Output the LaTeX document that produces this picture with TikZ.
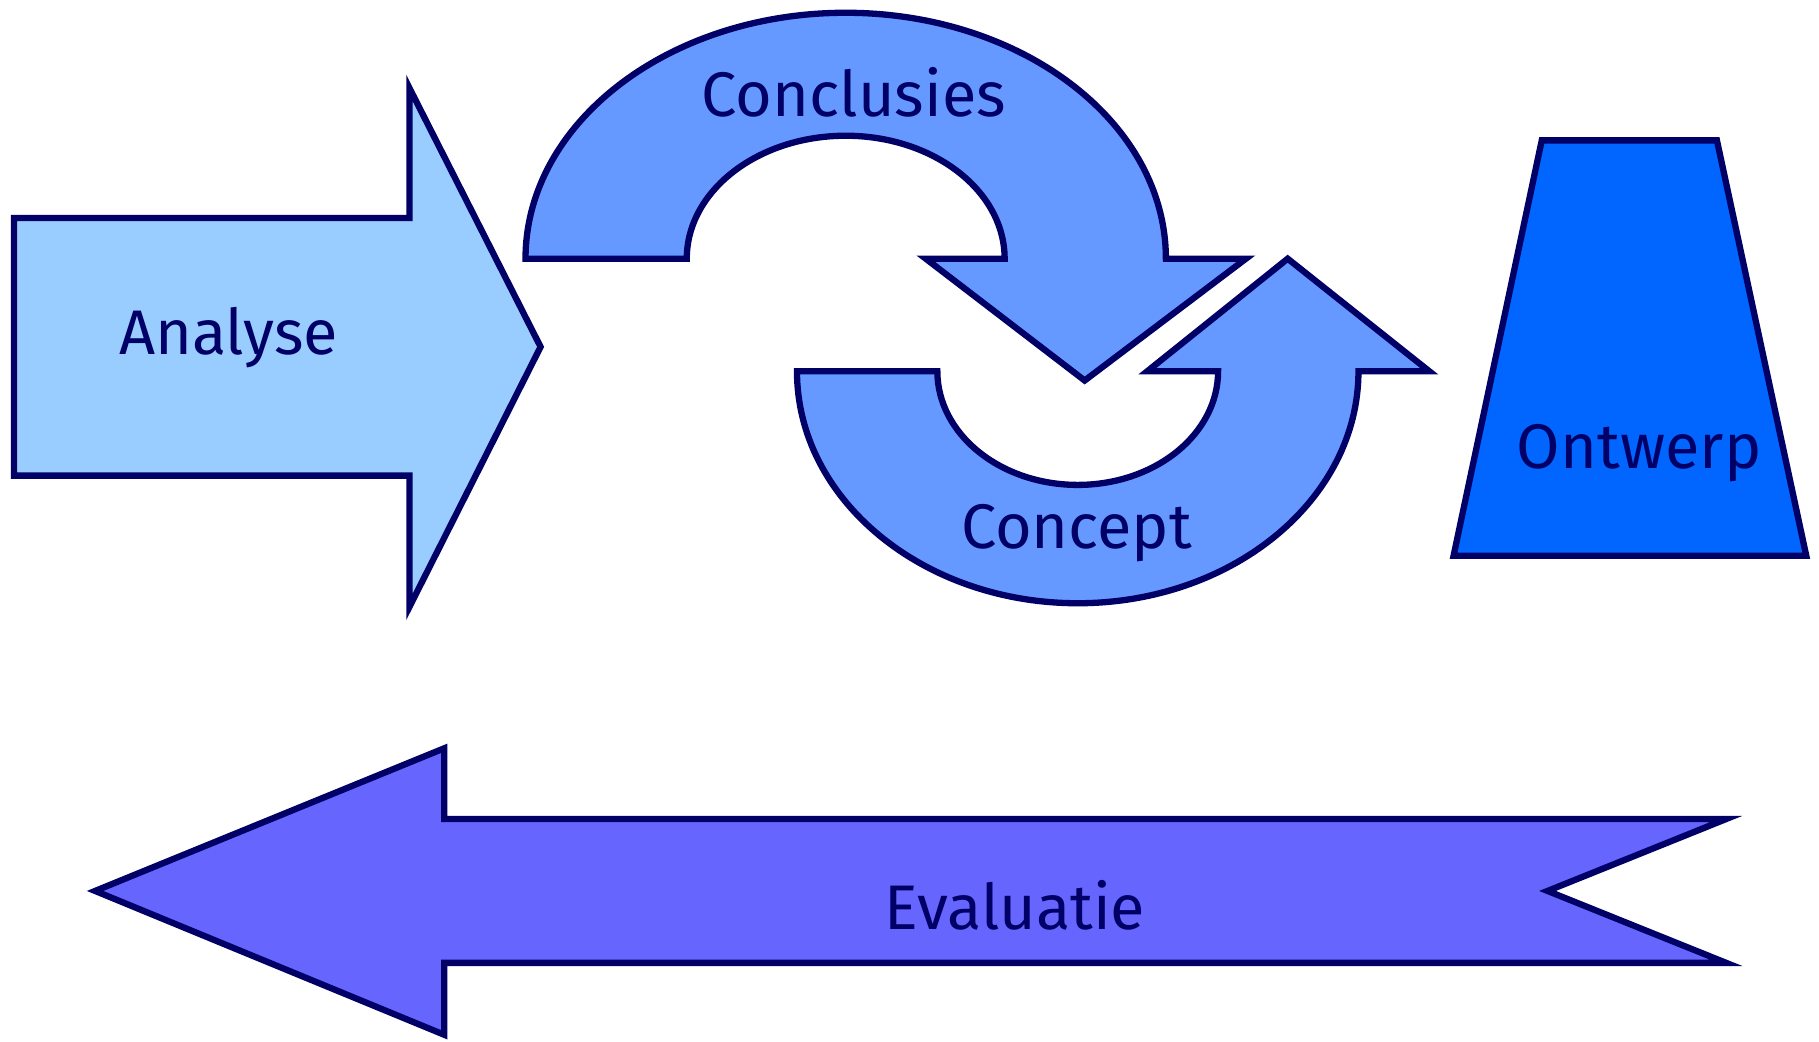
\documentclass[tikz,border=0pt]{standalone}
\usepackage{fontspec}
\setmainfont{Fira Sans}
\definecolor{navy}{HTML}{000066}
\definecolor{cLight}{HTML}{99CCFF}
\definecolor{cMid}{HTML}{6699FF}
\definecolor{cDeep}{HTML}{0066FF}
\definecolor{cViolet}{HTML}{6666FF}
\tikzset{
  shapeline/.style={draw=navy, line width=6.3pt, line join=miter},
  lbl/.style={text=navy, font=\fontsize{63}{70}\selectfont, anchor=base, inner sep=0pt}
}
\begin{document}
\begin{tikzpicture}[x=1.1601pt, y=-1.1601pt]
\useasboundingbox (0,0) rectangle (1568,898.2);
% Analyse arrow
\path[shapeline, fill=cLight] (12,188) -- (353,188) -- (353,76) -- (466,299) -- (353,523) -- (353,410) -- (12,410) -- cycle;
% Conclusies curved arrow
\path[shapeline, fill=cMid] (453,223) arc[start angle=180, end angle=360, x radius=276, y radius=212]
  -- (1074,223) -- (935,328) -- (798,223) -- (866,223)
  arc[start angle=360, end angle=180, x radius=137, y radius=106] -- cycle;
% Concept curved arrow
\path[shapeline, fill=cMid] (687,320) arc[start angle=180, end angle=0, x radius=242, y radius=200]
  -- (1232,320) -- (1110,223) -- (989,320) -- (1050,320)
  arc[start angle=0, end angle=180, x radius=121, y radius=98] -- cycle;
% Ontwerp trapezoid
\path[shapeline, fill=cDeep] (1329,121) -- (1480,121) -- (1557,479) -- (1253,479) -- cycle;
% Evaluatie arrow
\path[shapeline, fill=cViolet] (82,768) -- (383,645) -- (383,706) -- (1488,706) -- (1334,768) -- (1488,830) -- (383,830) -- (383,892) -- cycle;
% Labels
\node[lbl] (analyse) at (197,306) {Analyse};
\node[lbl] (conclusies) at (736,100) {Conclusies};
\node[lbl] (concept) at (928,473) {Concept};
\node[lbl] (ontwerp) at (1413,404) {Ontwerp};
\node[lbl] (evaluatie) at (875,801) {Evaluatie};
\end{tikzpicture}
\end{document}
